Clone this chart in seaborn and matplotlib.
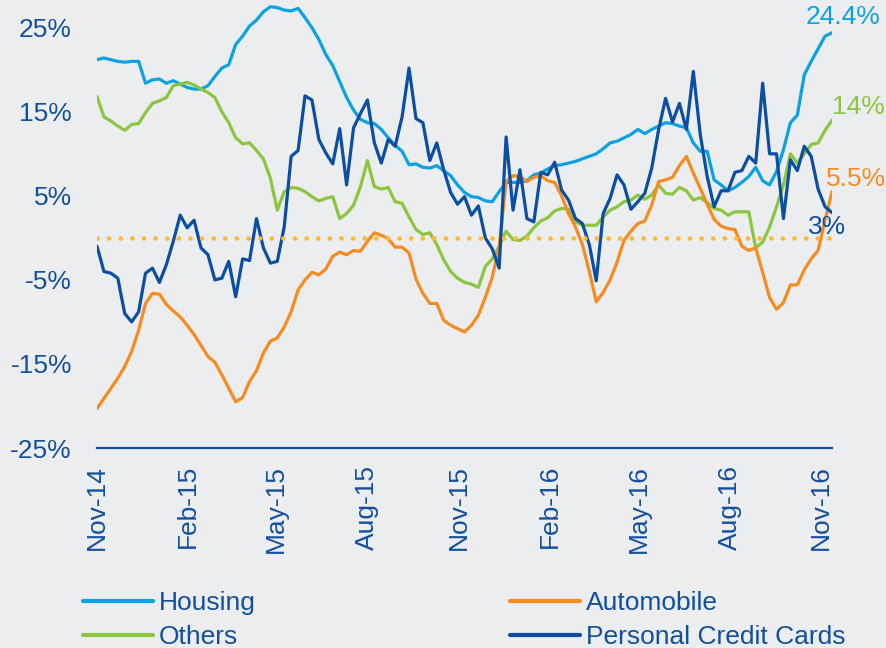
import pandas as pd
import matplotlib
matplotlib.use("Agg")
import matplotlib.pyplot as plt
import matplotlib.dates as mdates
import seaborn as sns

# series semanales (%), nov-14 a nov-16
housing = [21.2, 21.4, 21.2, 21.0, 20.9, 21.0, 21.0, 18.4, 18.8, 18.9,
           18.4, 18.7, 18.3, 17.9, 17.7, 17.7, 18.1, 19.2, 20.2, 20.6,
           23.0, 24.0, 25.2, 25.9, 26.9, 27.5, 27.4, 27.1, 27.0, 27.3,
           26.2, 25.0, 23.6, 21.8, 20.5, 18.6, 16.7, 15.2, 14.1, 13.7,
           13.6, 12.9, 11.9, 11.0, 10.3, 8.7, 8.8, 8.4, 8.3, 8.6,
           8.0, 7.4, 6.3, 5.4, 4.9, 4.8, 4.4, 4.3, 5.5, 6.6,
           6.6, 6.6, 6.8, 7.5, 7.7, 8.2, 8.6, 8.7, 8.9, 9.1,
           9.4, 9.7, 10.0, 10.6, 11.3, 11.5, 11.9, 12.3, 12.9, 12.4,
           12.9, 13.3, 13.7, 13.6, 13.3, 13.1, 11.3, 10.3, 10.3, 6.9,
           6.3, 5.6, 6.0, 6.6, 7.3, 8.4, 6.8, 6.3, 7.9, 10.5,
           13.7, 14.6, 19.4, 21.0, 22.5, 24.0, 24.4]
others = [16.8, 14.4, 13.9, 13.3, 12.8, 13.5, 13.6, 14.9, 16.0, 16.3,
          16.7, 18.1, 18.3, 18.5, 18.2, 17.7, 17.3, 16.7, 15.0, 13.7,
          11.9, 11.2, 11.3, 10.4, 9.4, 7.1, 3.3, 5.5, 6.0, 5.9,
          5.5, 4.9, 4.4, 4.7, 4.9, 2.3, 2.9, 3.9, 6.1, 9.2,
          6.1, 5.8, 6.0, 4.3, 4.1, 2.5, 1.0, 0.4, 0.6, -0.8,
          -2.6, -4.0, -4.8, -5.3, -5.5, -5.9, -3.4, -2.5, -1.0, 0.8,
          -0.2, -0.3, 0.2, 1.2, 2.0, 2.4, 3.2, 3.5, 3.4, 1.9,
          1.5, 1.5, 1.5, 2.5, 3.3, 3.7, 4.3, 4.5, 5.1, 4.6,
          5.1, 6.3, 5.3, 5.2, 6.0, 5.6, 4.5, 4.8, 4.2, 3.5,
          3.3, 2.7, 3.1, 3.1, 3.1, -1.2, -0.5, 1.3, 3.7, 6.3,
          10.0, 8.9, 10.0, 11.1, 11.3, 12.8, 14.0]
automobile = [-20.3, -19.1, -17.9, -16.7, -15.3, -13.5, -11.0, -7.8, -6.6, -6.7,
              -7.9, -8.7, -9.4, -10.4, -11.5, -12.8, -14.1, -14.8, -16.3, -17.9,
              -19.5, -19.0, -17.1, -15.8, -13.7, -12.3, -11.9, -10.6, -8.8, -6.2,
              -5.0, -4.1, -4.4, -3.7, -2.2, -1.7, -2.0, -1.5, -1.6, -0.4,
              0.6, 0.3, -0.1, -1.1, -1.1, -1.8, -4.9, -6.6, -7.8, -7.8,
              -9.8, -10.4, -10.8, -11.2, -10.4, -9.2, -7.1, -4.7, -1.0, 6.7,
              7.4, 7.3, 6.7, 7.2, 7.4, 6.8, 6.6, 5.0, 2.9, 1.3,
              -0.8, -4.0, -7.6, -6.5, -5.0, -2.9, -0.3, 0.8, 1.7, 2.0,
              3.9, 6.7, 6.9, 7.2, 8.6, 9.7, 7.7, 5.9, 4.0, 2.2,
              1.4, 1.1, 1.0, -1.0, -1.5, -1.2, -4.1, -7.1, -8.5, -7.7,
              -5.6, -5.6, -3.8, -2.5, -1.5, 2.1, 5.5]
tarjetas = [-1.0, -4.0, -4.2, -4.8, -9.0, -10.0, -8.8, -4.2, -3.6, -5.3,
            -3.2, -0.4, 2.7, 1.2, 2.1, -1.2, -2.0, -5.0, -4.8, -2.8,
            -7.0, -2.5, -2.7, 2.3, -1.2, -3.0, -2.8, 1.3, 9.7, 10.4,
            16.9, 16.4, 11.7, 10.1, 8.8, 13.0, 6.3, 13.1, 14.8, 16.4,
            11.3, 8.9, 11.7, 10.9, 14.4, 20.2, 14.2, 13.7, 9.2, 11.3,
            8.1, 5.4, 4.0, 4.9, 2.7, 3.8, 0.0, -1.3, -3.6, 12.0,
            3.3, 8.1, 2.3, 1.9, 7.8, 7.5, 9.0, 5.7, 4.5, 2.3,
            1.7, -0.8, -5.1, 2.9, 4.7, 7.5, 6.3, 3.4, 4.3, 5.3,
            8.3, 12.9, 16.6, 13.8, 16.0, 12.9, 19.8, 12.3, 7.3, 3.7,
            5.6, 5.6, 7.8, 8.0, 9.7, 8.9, 18.4, 10.0, 10.0, 2.3,
            9.3, 8.0, 10.9, 9.7, 5.8, 3.7, 3.0]

series = ["Housing", "Others", "Automobile", "Personal Credit Cards"]
colores = {"Housing": "#0AA2E2", "Others": "#8CC63F",
           "Automobile": "#F68B1F", "Personal Credit Cards": "#0B4EA2"}
etiquetas_fin = {"Housing": "24.4%", "Others": "14%",
                 "Automobile": "5.5%", "Personal Credit Cards": "3%"}
desplaz = {"Housing": (11, 16), "Others": (26, 13),
           "Automobile": (24, 13), "Personal Credit Cards": (-5, -14)}

fechas = pd.date_range("2014-11-01", periods=len(housing), freq="7D")
df = pd.DataFrame({"fecha": fechas, "Housing": housing, "Others": others,
                   "Automobile": automobile, "Personal Credit Cards": tarjetas})
df_largo = df.melt(id_vars="fecha", var_name="serie", value_name="valor")

fondo = "#ECEDEF"
azul_texto = "#124F9F"
tam = 19

sns.set_style("white")
plt.rcParams["font.family"] = ["Liberation Sans", "DejaVu Sans"]

fig = plt.figure(figsize=(8.87, 6.48), dpi=100, facecolor=fondo)
ax = fig.add_axes([97 / 887, 200 / 648, 735 / 887, 448 / 648])
ax.set_facecolor(fondo)

sns.lineplot(data=df_largo, x="fecha", y="valor", hue="serie", hue_order=series,
             palette=colores, linewidth=2.3, ax=ax)

# linea punteada en cero
ax.axhline(0, color="#FDBA33", linewidth=3.4, linestyle=(0, (0.01, 2.45)),
           dash_capstyle="round", zorder=5)

ax.set_xlim(fechas[0], fechas[-1])
ax.set_ylim(-25, 28.3)
ax.set_yticks([-25, -15, -5, 5, 15, 25])
ax.yaxis.set_major_formatter(plt.FuncFormatter(lambda v, p: f"{v:.0f}%"))
ax.xaxis.set_major_locator(mdates.MonthLocator(bymonth=[2, 5, 8, 11]))
ax.xaxis.set_major_formatter(mdates.DateFormatter("%b-%y"))
ax.tick_params(axis="y", length=0, pad=18, labelsize=tam, labelcolor=azul_texto)
ax.tick_params(axis="x", length=0, pad=12, labelsize=tam, labelcolor=azul_texto,
               labelrotation=90)
ax.set_xlabel("")
ax.set_ylabel("")
for lado in ["top", "right", "left"]:
    ax.spines[lado].set_visible(False)
ax.spines["bottom"].set_color(azul_texto)
ax.spines["bottom"].set_linewidth(1.6)

# etiquetas al final de cada serie
for s in series:
    ax.annotate(etiquetas_fin[s], xy=(fechas[-1], df[s].iloc[-1]),
                xytext=desplaz[s], textcoords="offset pixels",
                ha="center", va="center", fontsize=tam, color=colores[s],
                annotation_clip=False)

handles, labels = ax.get_legend_handles_labels()
leg = ax.legend(handles, labels, ncol=2, loc="upper left",
                bbox_to_anchor=(83 / 887, (648 - 591) / 648),
                bbox_transform=fig.transFigure, frameon=False, fontsize=tam,
                labelcolor=azul_texto, handlelength=2.65, handletextpad=0.22,
                columnspacing=9.65, labelspacing=0.38, borderpad=0,
                borderaxespad=0)
for linea in leg.get_lines():
    linea.set_linewidth(3.0)

fig.savefig("out.png", dpi=100, facecolor=fondo)
